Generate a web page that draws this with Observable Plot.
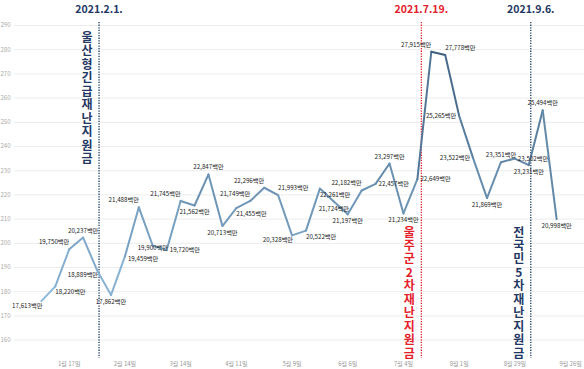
<!DOCTYPE html>
<html><head><meta charset="utf-8">
<script src="https://cdn.jsdelivr.net/npm/d3@7"></script>
<script src="https://cdn.jsdelivr.net/npm/@observablehq/plot@0.6"></script>
<style>html,body{margin:0;padding:0;background:#fff;} svg{display:block}</style>
</head><body><div id="chart"></div>
<script>
// weekly data (week start dates) and values in 백만원
const weeks = ["2021-01-03","2021-01-10","2021-01-17","2021-01-24","2021-01-31",
  "2021-02-07","2021-02-14","2021-02-21","2021-02-28",
  "2021-03-07","2021-03-14","2021-03-21","2021-03-28",
  "2021-04-04","2021-04-11","2021-04-18","2021-04-25",
  "2021-05-02","2021-05-09","2021-05-16","2021-05-23","2021-05-30",
  "2021-06-06","2021-06-13","2021-06-20","2021-06-27",
  "2021-07-04","2021-07-11","2021-07-18","2021-07-25",
  "2021-08-01","2021-08-08","2021-08-15","2021-08-22","2021-08-29",
  "2021-09-05","2021-09-12","2021-09-19"];
const values = [17613,18220,19750,20237,18889,17862,19459,21488,19900,19720,
  21745,21562,22847,20713,21455,21749,22296,21993,20328,20522,
  22261,21724,21197,22182,22457,23297,21234,22649,27915,27778,
  25265,23522,21869,23351,23502,23231,25494,20998];
// where each value label sits relative to its point
const labelPlacement = ["bl","br","tl","t","bl","b","rb","tl","c","r",
  "tl","b","t","b","br","tl","tl","tr","bl","br",
  "br","b","b","tl","r","t","b","r","tl","tr",
  "l","l","b","t","r","b","t","b"];

const yTicks = [160,170,180,190,200,210,220,230,240,250,260,270,280,290];
const xTickDates = ["2021-01-17","2021-02-14","2021-03-14","2021-04-11","2021-05-09",
  "2021-06-06","2021-07-04","2021-08-01","2021-08-29","2021-09-26"];
const xTickLabels = ["1월 17일","2월 14일","3월 14일","4월 11일","5월 9일",
  "6월 6일","7월 4일","8월 1일","8월 29일","9월 26일"];

const eventTitles = ["2021.2.1.","2021.7.19.","2021.9.6."];
const eventLineDates = ["2021-02-01","2021-07-13","2021-09-06"]; // as drawn in the picture
const eventNames = ["울산형긴급재난지원금","울주군2차재난지원금","전국민5차재난지원금"];
const eventColors = ["#1f3864","#e3202a","#1f3864"];

const FONT = "'Noto Sans CJK KR', 'Noto Sans', sans-serif";
const dates = weeks.map(d => new Date(d));
const pts = values.map((v, i) => ({date: dates[i], v: v / 100, raw: v, pos: labelPlacement[i]}));
const segs = pts.slice(1).map((p, i) => ({x1: pts[i].date, y1: pts[i].v, x2: p.date, y2: p.v, c: (pts[i].v + p.v) / 2}));
const tickDates = xTickDates.map(d => new Date(d));
const events = eventTitles.map((t, i) => ({
  title: t, date: new Date(eventLineDates[i]), name: eventNames[i].split("").join("\n"), color: eventColors[i]
}));

const place = {
  t:  {textAnchor: "middle", dx: 0, dy: -7},
  b:  {textAnchor: "middle", dx: 0, dy: 7},
  c:  {textAnchor: "middle", dx: 0, dy: 2},
  l:  {textAnchor: "end", dx: -3, dy: 0},
  r:  {textAnchor: "start", dx: 3, dy: 0},
  rb: {textAnchor: "start", dx: 3, dy: 3},
  tl: {textAnchor: "end", dx: 0, dy: -7},
  tr: {textAnchor: "start", dx: 0, dy: -7},
  bl: {textAnchor: "end", dx: 1, dy: 5},
  br: {textAnchor: "start", dx: 0, dy: 6}
};
const fmt = d3.format(",");
const labelMarks = Object.entries(place).map(([k, o]) =>
  Plot.text(pts.filter(p => p.pos === k), {
    x: "date", y: "v", text: p => fmt(p.raw) + "백만",
    textAnchor: o.textAnchor, dx: o.dx, dy: o.dy,
    fontSize: 6.2, fill: "#222", fontFamily: FONT
  })
);

const chart = Plot.plot({
  width: 584, height: 369,
  marginTop: 22, marginBottom: 11, marginLeft: 14, marginRight: 0,
  style: {fontFamily: FONT, background: "#fff"},
  x: {type: "utc", domain: [new Date("2020-12-20T12:00Z"), new Date("2021-10-03T00:00Z")]},
  y: {domain: [152.4, 291.24]},
  color: {type: "linear", domain: [176, 280], range: ["#8fbbdd", "#3e5e7e"]},
  marks: [
    Plot.gridY(yTicks, {stroke: "#ececec", strokeOpacity: 1}),
    Plot.axisY(yTicks, {tickSize: 0, tickPadding: 4, fontSize: 6, color: "#aaa", label: null}),
    Plot.axisX(tickDates, {
      tickSize: 0, tickPadding: 3, fontSize: 6, color: "#999", label: null,
      tickFormat: d => xTickLabels[tickDates.findIndex(t => +t === +d)]
    }),
    Plot.ruleX(events, {x: "date", stroke: "color", strokeWidth: 1.3, strokeDasharray: "1.3,1.3"}),
    Plot.text(events, {x: "date", text: "title", frameAnchor: "top", dy: -17,
      fill: "color", fontSize: 10.5, fontWeight: "bold", fontFamily: FONT}),
    Plot.text(events.slice(0, 1), {x: "date", text: "name", frameAnchor: "top", lineAnchor: "top",
      dx: -12, dy: 10, lineHeight: 1.12, fill: "color", fontSize: 12, fontWeight: "bold", fontFamily: FONT}),
    Plot.text(events.slice(1), {x: "date", text: "name", frameAnchor: "bottom", lineAnchor: "bottom",
      dx: -12, dy: -1, lineHeight: 1.12, fill: "color", fontSize: 12, fontWeight: "bold", fontFamily: FONT}),
    Plot.link(segs, {x1: "x1", y1: "y1", x2: "x2", y2: "y2", stroke: "c", strokeWidth: 2, strokeLinecap: "round"}),
    ...labelMarks
  ]
});
document.getElementById("chart").appendChild(chart);
</script>
</body></html>
